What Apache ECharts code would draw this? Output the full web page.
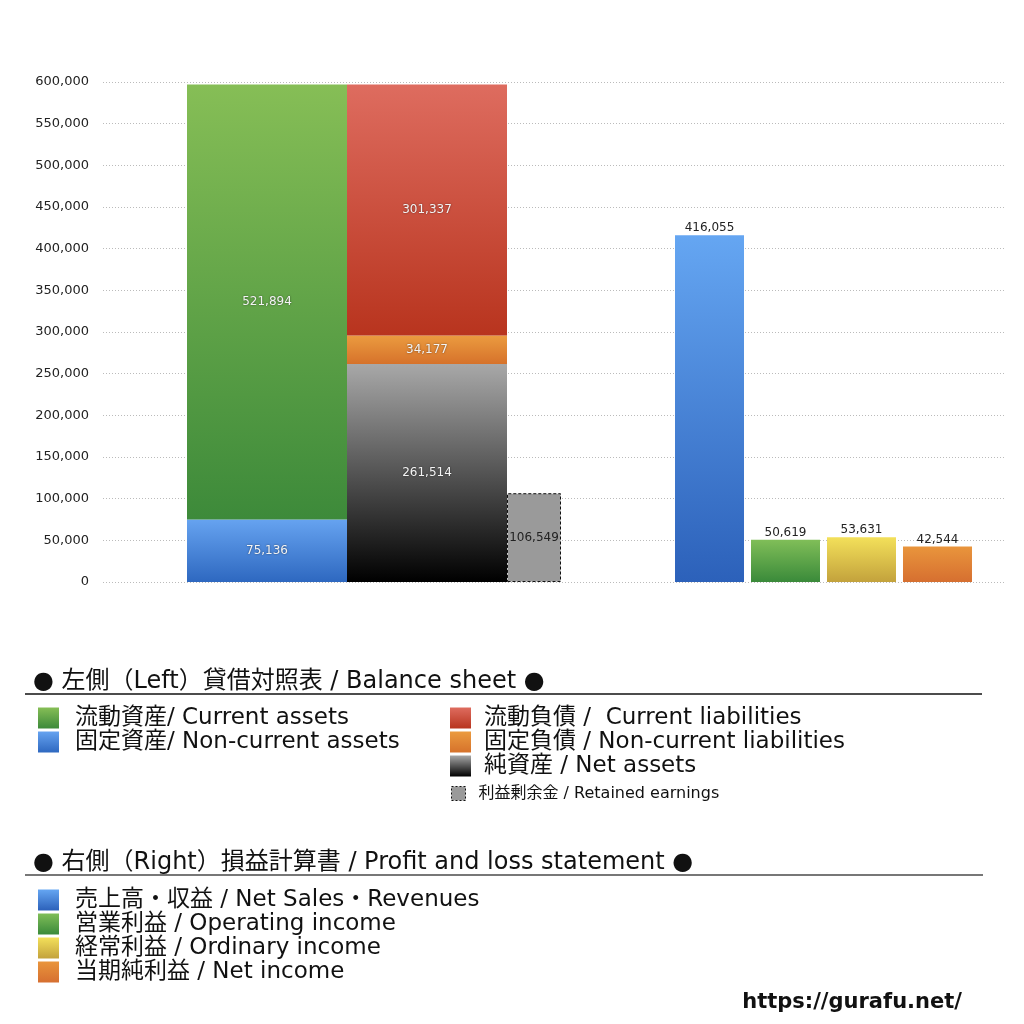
<!DOCTYPE html>
<html>
<head>
<meta charset="utf-8">
<script src="https://cdn.jsdelivr.net/npm/echarts@6/dist/echarts.min.js"></script>
<style>html,body{margin:0;padding:0;background:#fff}#c{width:1024px;height:1024px}</style>
</head>
<body>
<div id="c"></div>
<script>
// ---- data ----
const bsCategory = ['貸借対照表'];
const plCategory = ['損益計算書'];
const yTicks = { min: 0, max: 600000, interval: 50000 };

const bsAssetNames = ['固定資産/ Non-current assets', '流動資産/ Current assets'];
const bsAssetValues = [75136, 521894];
const bsLiabNames = ['純資産 / Net assets', '固定負債 / Non-current liabilities', '流動負債 /  Current liabilities'];
const bsLiabValues = [261514, 34177, 301337];
const retainedName = '利益剰余金 / Retained earnings';
const retainedValue = 106549;

const plNames = ['売上高・収益 / Net Sales・Revenues', '営業利益 / Operating income', '経常利益 / Ordinary income', '当期純利益 / Net income'];
const plValues = [416055, 50619, 53631, 42544];

const titleLeft = '● 左側（Left）貸借対照表 / Balance sheet ●';
const titleRight = '● 右側（Right）損益計算書 / Profit and loss statement ●';
const footer = 'https://gurafu.net/';

// ---- styles ----
const FONT = '"DejaVu Sans", "Noto Sans CJK JP", sans-serif';
function grad(top, bottom) {
  return new echarts.graphic.LinearGradient(0, 0, 0, 1, [
    { offset: 0, color: top }, { offset: 1, color: bottom }
  ]);
}
const bsAssetColors = [grad('#66a3f0', '#2e68c0'), grad('#86be56', '#3d8a3a')];
const bsLiabColors = [grad('#a8a8a8', '#000000'), grad('#eb9b3f', '#d6722b'), grad('#de6c5f', '#b8341e')];
const plColors = [grad('#65a6f2', '#2c61ba'), grad('#80be58', '#3a8a3a'), grad('#f3e05a', '#c3a23c'), grad('#e9953c', '#d66f30')];

const fmt = v => Number(v).toLocaleString('en-US');
const innerLabel = {
  show: true, position: 'inside', fontSize: 12, fontFamily: FONT,
  color: '#f4f4f4', textShadowColor: 'rgba(0,0,0,0.55)', textShadowBlur: 2,
  formatter: p => fmt(p.value)
};

const series = [];
bsAssetNames.forEach((n, i) => series.push({
  name: n, type: 'bar', xAxisIndex: 1, yAxisIndex: 1, stack: 'assets',
  barWidth: 160, barGap: 0,
  data: [bsAssetValues[i]],
  itemStyle: { color: bsAssetColors[i] },
  label: innerLabel
}));
bsLiabNames.forEach((n, i) => series.push({
  name: n, type: 'bar', xAxisIndex: 1, yAxisIndex: 1, stack: 'liab',
  barWidth: 160, barGap: 0,
  data: [bsLiabValues[i]],
  itemStyle: { color: bsLiabColors[i] },
  label: innerLabel
}));
series.push({
  name: retainedName, type: 'bar', xAxisIndex: 1, yAxisIndex: 1,
  barWidth: 54, barGap: 0,
  data: [retainedValue],
  itemStyle: { color: '#9a9a9a', borderColor: '#111', borderWidth: 1, borderType: [3, 2] },
  label: { show: true, position: 'inside', fontSize: 12, fontFamily: FONT, color: '#222', formatter: p => fmt(p.value) }
});
plNames.forEach((n, i) => series.push({
  name: n, type: 'bar', xAxisIndex: 2, yAxisIndex: 2,
  barWidth: 69, barGap: '10.14%',
  data: [plValues[i]],
  itemStyle: { color: plColors[i] },
  label: { show: true, position: 'top', distance: 1, fontSize: 12, fontFamily: FONT, color: '#222', formatter: p => fmt(p.value) }
}));

const legendText = { fontSize: 23, fontFamily: FONT, color: '#111', lineHeight: 20, padding: [4, 0, 0, 11] };
const legendBase = { orient: 'vertical', icon: 'rect', itemWidth: 21, itemHeight: 21, itemGap: 0, padding: 0, selectedMode: false, textStyle: legendText };
const hiddenY = gi => ({ type: 'value', gridIndex: gi, min: yTicks.min, max: yTicks.max, interval: yTicks.interval, show: false, splitLine: { show: false } });

const option = {
  backgroundColor: '#fff',
  animation: false,
  grid: [
    { left: 103, right: 19, top: 82, bottom: 442 },
    { left: 187, width: 374, top: 82, bottom: 442 },
    { left: 675, width: 297, top: 82, bottom: 442 }
  ],
  xAxis: [
    { type: 'category', gridIndex: 0, data: [''], show: false },
    { type: 'category', gridIndex: 1, data: bsCategory, show: false },
    { type: 'category', gridIndex: 2, data: plCategory, show: false }
  ],
  yAxis: [
    {
      type: 'value', gridIndex: 0, min: yTicks.min, max: yTicks.max, interval: yTicks.interval,
      axisLine: { show: false }, axisTick: { show: false },
      axisLabel: { fontSize: 13, color: '#222', margin: 14, fontFamily: FONT, padding: [4, 0, 0, 0], formatter: v => fmt(v) },
      splitLine: { lineStyle: { color: '#bbbbbb', type: [1, 2], width: 1 } }
    },
    hiddenY(1),
    hiddenY(2)
  ],
  legend: [
    Object.assign({}, legendBase, { left: 38, top: 706, data: [bsAssetNames[1], bsAssetNames[0]] }),
    Object.assign({}, legendBase, { left: 450, top: 706, textStyle: Object.assign({}, legendText, { padding: [4, 0, 0, 8] }), data: [bsLiabNames[2], bsLiabNames[1], bsLiabNames[0]] }),
    Object.assign({}, legendBase, {
      left: 451, top: 785, itemWidth: 14, itemHeight: 14,
      textStyle: { fontSize: 16, fontFamily: FONT, color: '#111', lineHeight: 14, padding: [3, 0, 0, 8] },
      data: [{ name: retainedName, itemStyle: { borderColor: '#111', borderWidth: 1, borderType: [2, 2] } }]
    }),
    Object.assign({}, legendBase, { left: 38, top: 888, data: plNames })
  ],
  graphic: [
    { type: 'text', left: 33, top: 670, style: { text: titleLeft, fontSize: 24, fontFamily: FONT, fill: '#111' } },
    { type: 'line', shape: { x1: 25, y1: 694, x2: 982, y2: 694 }, style: { stroke: '#111', lineWidth: 1.5 } },
    { type: 'text', left: 33, top: 851, style: { text: titleRight, fontSize: 24, fontFamily: FONT, fill: '#111' } },
    { type: 'line', shape: { x1: 25, y1: 875, x2: 983, y2: 875 }, style: { stroke: '#777', lineWidth: 2 } },
    { type: 'text', right: 62, top: 992, style: { text: footer, fontSize: 21, fontWeight: 'bold', fontFamily: FONT, fill: '#111' } }
  ],
  series: series
};

const chart = echarts.init(document.getElementById('c'), null, { renderer: 'canvas' });
chart.setOption(option);
</script>
</body>
</html>
